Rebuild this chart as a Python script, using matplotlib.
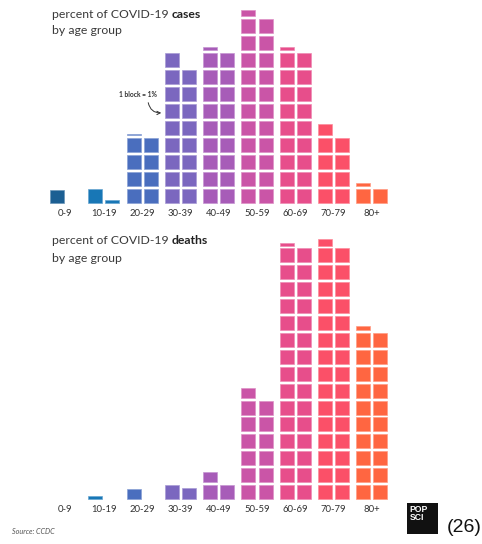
import numpy as np
import matplotlib.pyplot as plt
from matplotlib.patches import Rectangle

age_groups = ["0-9", "10-19", "20-29", "30-39", "40-49", "50-59", "60-69", "70-79", "80+"]
cases_pct = [0.9, 1.2, 8.1, 17.0, 18.2, 22.4, 18.2, 8.8, 2.2]   # 1 block = 1%
deaths_pct = [0.0, 0.2, 0.7, 1.8, 2.7, 12.7, 30.2, 30.5, 20.3]
group_colors = ["#1c5f93", "#1877b6", "#4a6ebe", "#7b67bf", "#a75cb8",
                "#ca55a7", "#e74e8b", "#fb5068", "#ff6641"]

W, H = 482, 544
fig = plt.figure(figsize=(W / 100, H / 100), dpi=100)
plt.rcParams['font.family'] = ['Lato', 'DejaVu Sans']

# pixel geometry of the waffle grid
group_pitch = 38.3
x0 = 65.5 - 0.5 * group_pitch
col_off = [-15.5 / group_pitch, 1.5 / group_pitch]   # left edge of each column, in group units
blk_w = 14 / group_pitch
blk_h = 14 / 17.0


def lighten(c, amt=0.35):
    rgb = np.array(plt.matplotlib.colors.to_rgb(c))
    return tuple(rgb + (1 - rgb) * amt)


def waffle(ax, values):
    for i, v in enumerate(values):
        n = int(np.floor(v + 1e-9))
        frac = v - n
        for k in range(n + 1):
            h = blk_h if k < n else blk_h * frac
            if h <= 0:
                continue
            row, col = k // 2, k % 2
            ax.add_patch(Rectangle((i + col_off[col], row), blk_w, h,
                                   facecolor=group_colors[i], edgecolor=lighten(group_colors[i]),
                                   linewidth=0.5, clip_on=False))
        ax.text(i, -10.5 / 17, age_groups[i], ha='center', va='center', fontsize=6.8, color='#333333')


def panel(base_px, pitch_px, ymax):
    ax_w = 9 * group_pitch
    ax_h = ymax * pitch_px
    ax = fig.add_axes([x0 / W, (H - base_px) / H, ax_w / W, ax_h / H])
    ax.set_xlim(-0.5, 8.5)
    ax.set_ylim(0, ymax)
    ax.axis('off')
    return ax


ax1 = panel(203, 17.0, 11.8)
waffle(ax1, cases_pct)

ax2 = panel(499, 16.9, 16)
waffle(ax2, deaths_pct)

renderer = fig.canvas.get_renderer()


def title(y_px, bold_word):
    t = fig.text(52 / W, 1 - y_px / H, "percent of COVID-19 ", fontsize=8.8, color='#3a3a3a',
                 va='center', ha='left')
    bb = t.get_window_extent(renderer)
    fig.text(bb.x1 / W, 1 - y_px / H, bold_word, fontsize=8.8, color='#222222',
             fontweight='bold', va='center', ha='left')
    fig.text(52 / W, 1 - (y_px + 17) / H, "by age group", fontsize=8.8, color='#3a3a3a',
             va='center', ha='left')


title(14, "cases")
title(241, "deaths")

# 1 block = 1% note
fig.text(138 / W, 1 - 95 / H, "1 block = 1%", fontsize=4.8, fontweight='bold', color='#333333',
         ha='center', va='center')
ax1.annotate("", xy=(2.50, 5.3), xytext=(2.16, 5.9),
             arrowprops=dict(arrowstyle='->', color='#333333', lw=0.7, mutation_scale=6,
                             connectionstyle='arc3,rad=0.4', shrinkA=0, shrinkB=0))

fig.text(12 / W, 1 - 531 / H, "Source: CCDC", fontsize=5.2, style='italic', color='#555555',
         ha='left', va='center')

# POPSCI logo
fig.patches.append(Rectangle((407 / W, 1 - 534 / H), 31 / W, 31 / H, transform=fig.transFigure,
                             facecolor='#111111', edgecolor='none'))
fig.text(409.5 / W, 1 - 505 / H, "POP\nSCI", fontsize=6.2, fontweight='bold', color='white',
         ha='left', va='top', linespacing=0.85, family=['Liberation Sans', 'DejaVu Sans'])

fig.text(464 / W, 1 - 527 / H, "(26)", fontsize=14, color='#111111', ha='center', va='center',
         family=['Liberation Sans', 'DejaVu Sans'])

fig.savefig("out.png", dpi=100, facecolor='white')
